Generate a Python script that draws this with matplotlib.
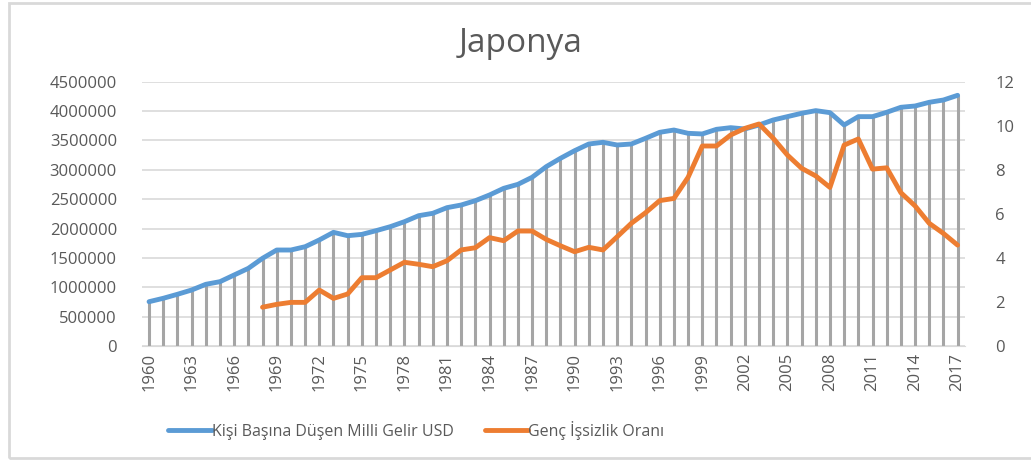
import matplotlib
matplotlib.use("Agg")
import matplotlib.pyplot as plt
from matplotlib.patches import Rectangle

plt.rcParams['font.family'] = ['Open Sans', 'DejaVu Sans']

# Veriler
years = list(range(1960, 2018))
gelir = [754000, 812000, 880000, 953000, 1050000, 1095000, 1209000, 1322000,
         1493000, 1634000, 1634000, 1690000, 1805000, 1935000, 1878000, 1900000,
         1963000, 2031000, 2116000, 2218000, 2259000, 2355000, 2400000, 2474000,
         2571000, 2684000, 2752000, 2872000, 3053000, 3195000, 3325000, 3439000,
         3468000, 3422000, 3439000, 3536000, 3638000, 3677000, 3621000, 3610000,
         3689000, 3717000, 3695000, 3763000, 3848000, 3905000, 3962000, 4007000,
         3973000, 3763000, 3905000, 3905000, 3979000, 4064000, 4086000, 4149000,
         4188000, 4268000]
issizlik_years = list(range(1968, 2018))
issizlik = [1.76, 1.89, 1.98, 1.98, 2.54, 2.16, 2.36, 3.10, 3.10, 3.45,
            3.80, 3.71, 3.60, 3.87, 4.36, 4.46, 4.92, 4.78, 5.22, 5.22,
            4.84, 4.55, 4.28, 4.48, 4.36, 4.96, 5.57, 6.05, 6.60, 6.70,
            7.66, 9.08, 9.08, 9.58, 9.88, 10.08, 9.43, 8.67, 8.07, 7.72,
            7.20, 9.12, 9.40, 8.03, 8.09, 6.96, 6.36, 5.57, 5.11, 4.58]

mavi = '#5b9bd5'
turuncu = '#ed7d31'
gri = '#595959'

fig = plt.figure(figsize=(10.31, 4.61), dpi=100)
fig.patches.append(Rectangle((9 / 1031, 3 / 461), 1.0, 455 / 461, transform=fig.transFigure,
                             fill=False, edgecolor='#d9d9d9', linewidth=2))

ax = fig.add_axes([0.1377, 0.2495, 0.798, 0.5733])
ax2 = ax.twinx()

# Dikey çizgiler (drop lines)
ax.vlines(years, 0, gelir, color='#a5a5a5', linewidth=2.2, zorder=1)
l1, = ax.plot(years, gelir, color=mavi, linewidth=3.5, solid_capstyle='round', zorder=3,
              label='Kişi Başına Düşen Milli Gelir USD')
l2, = ax2.plot(issizlik_years, issizlik, color=turuncu, linewidth=3.5, solid_capstyle='round',
               label='Genç İşsizlik Oranı')

ax.set_xlim(1959.5, 2017.5)
ax.set_ylim(0, 4500000)
ax2.set_ylim(0, 12)
ax.set_yticks(range(0, 4500001, 500000))
ax.set_yticklabels([str(v) for v in range(0, 4500001, 500000)])
ax2.set_yticks(range(0, 13, 2))
ax.set_xticks(years[::3])
ax.set_xticklabels([str(y) for y in years[::3]], rotation=90)
ax.grid(axis='y', color='#d9d9d9', linewidth=1.2)
ax.set_axisbelow(True)

for a in (ax, ax2):
    for s in a.spines.values():
        s.set_visible(False)
    a.tick_params(length=0, colors=gri, labelsize=12)
ax.spines['bottom'].set_visible(True)
ax.spines['bottom'].set_color('#d9d9d9')
ax.tick_params(axis='y', pad=18)
ax2.tick_params(axis='y', pad=22)
ax.tick_params(axis='x', pad=5)

fig.text(0.505, 0.905, 'Japonya', ha='center', va='center', fontsize=24, color=gri)
fig.legend(handles=[l1, l2], loc='center', bbox_to_anchor=(0.404, 0.067), ncol=2, frameon=False,
           fontsize=11.5, handlelength=2.7, handletextpad=0.05, columnspacing=1.9, labelcolor=gri)

fig.savefig('out.png', dpi=100)
